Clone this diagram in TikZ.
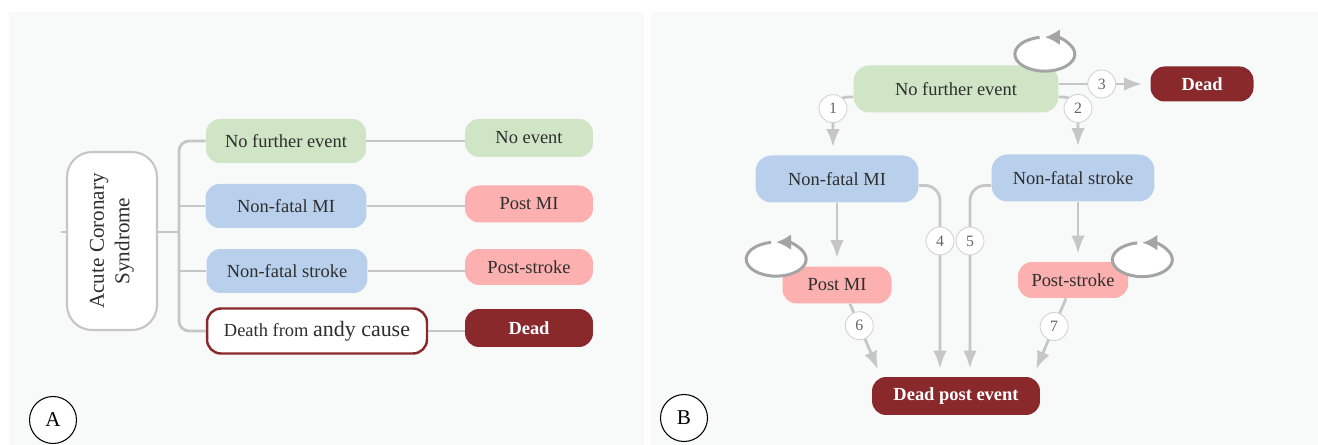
\documentclass[tikz,border=0pt]{standalone}
\usepackage{fontspec}
\setmainfont{Liberation Serif}
\usetikzlibrary{arrows.meta,calc}

\definecolor{panelbg}{HTML}{F8FAF9}
\definecolor{evgreen}{HTML}{CFE5C6}
\definecolor{nfblue}{HTML}{B9D0EC}
\definecolor{postpink}{HTML}{FDB0B0}
\definecolor{deadred}{HTML}{8A292C}
\definecolor{linkgray}{HTML}{C6C6C6}
\definecolor{loopgray}{HTML}{A4A4A4}
\definecolor{numgray}{HTML}{D2D2D2}
\definecolor{numtext}{HTML}{666666}
\definecolor{txtgray}{HTML}{2E2E2E}

\begin{document}
\begin{tikzpicture}%
        [x=0.02cm, y=-0.02cm,
        panel/.style={fill=panelbg},
        box/.style={rounded corners=0.28cm, inner sep=0pt, text=txtgray, font=\fontsize{10.5}{12}\selectfont},
        event/.style={box, fill=evgreen},
        nonfatal/.style={box, fill=nfblue},
        post/.style={box, fill=postpink},
        dead/.style={box, fill=deadred, text=white, font=\fontsize{10.5}{12}\selectfont\bfseries},
        link/.style={draw=linkgray, line width=1.6pt},
        trans/.style={link, -{Latex[length=0.36cm,width=0.27cm]}, shorten >=0.16cm},
        num/.style={circle, draw=numgray, fill=white, line width=0.5pt, minimum size=0.56cm, inner sep=0pt, text=numtext, font=\fontsize{9}{10}\selectfont},
        selfloop/.style={draw=loopgray, line width=1.7pt, -{Latex[length=0.3cm,width=0.32cm]}},
        tag/.style={circle, draw=black, fill=white, line width=0.6pt, minimum size=0.94cm, inner sep=0pt, font=\fontsize{12}{14}\selectfont}]
    %
    \useasboundingbox (0,0) rectangle (1318,445);
    %% Panels
    \fill[panel] (9,12) rectangle (644,445);
    \fill[panel] (651,12) rectangle (1318,445);
    %%
    %%
    %% Panel A: decision tree
    %%
    \node[box, draw=linkgray, fill=white, line width=1.2pt, rounded corners=0.5cm, rotate=90,
          minimum width=3.56cm, minimum height=1.8cm, align=center,
          font=\fontsize{12}{14.5}\selectfont] (acs) at (112,241) {Acute Coronary\\Syndrome};
    \node[event, minimum width=3.2cm, minimum height=0.88cm] (nfeA) at (286,141) {No further event};
    \node[nonfatal, minimum width=3.22cm, minimum height=0.88cm] (nmiA) at (286,206) {Non-fatal MI};
    \node[nonfatal, minimum width=3.22cm, minimum height=0.88cm] (nstA) at (287,271) {Non-fatal stroke};
    \node[box, draw=deadred, line width=1.4pt, fill=white, minimum width=4.4cm, minimum height=0.9cm] (deathA) at (317,331)
        {Death from {\fontsize{12.5}{14}\selectfont andy cause}};
    \node[event, minimum width=2.56cm, minimum height=0.76cm] (noevA) at (529,138) {No event};
    \node[post, minimum width=2.56cm, minimum height=0.74cm] (pmiA) at (529,204) {Post MI};
    \node[post, minimum width=2.56cm, minimum height=0.72cm] (pstA) at (529,267) {Post-stroke};
    \node[dead, minimum width=2.56cm, minimum height=0.76cm] (deadA) at (529,328) {Dead};
    %% Branches
    \coordinate (fork) at (179,232);
    \draw[link] (acs.south |- fork) -- (fork);
    \draw[link, line width=0.8pt] (acs.north |- fork) -- ++(-5,0);
    \draw[link, rounded corners=0.2cm] (nfeA.west) -| (fork) |- (deathA.west);
    \draw[link] (nmiA.west) -- (nmiA.west -| fork);
    \draw[link] (nstA.west) -- (nstA.west -| fork);
    \draw[link] (nfeA.east) -- (nfeA.east -| noevA.west);
    \draw[link] (nmiA.east) -- (nmiA.east -| pmiA.west);
    \draw[link] (nstA.east) -- (nstA.east -| pstA.west);
    \draw[link] (deathA.east) -- (deathA.east -| deadA.west);
    \node[tag] (tagA) at (53,420) {A};
    %%
    %%
    %% Panel B: state transitions
    %%
    \node[event, rounded corners=0.32cm, minimum width=4.1cm, minimum height=0.94cm] (nfeB) at (956,89) {No further event};
    \node[dead, minimum width=2.06cm, minimum height=0.7cm] (deadB) at (1202,84) {Dead};
    \node[nonfatal, rounded corners=0.32cm, minimum width=3.26cm, minimum height=0.94cm] (nmiB) at (837,179) {Non-fatal MI};
    \node[nonfatal, rounded corners=0.32cm, minimum width=3.26cm, minimum height=0.94cm] (nstB) at (1073,178) {Non-fatal stroke};
    \node[post, minimum width=2.18cm, minimum height=0.74cm] (pmiB) at (837,285) {Post MI};
    \node[post, minimum width=2.2cm, minimum height=0.72cm] (pstB) at (1073,280) {Post-stroke};
    \node[dead, minimum width=3.36cm, minimum height=0.76cm] (dpeB) at (956,396) {Dead post event};
    %% Transitions
    \draw[trans, rounded corners=0.3cm] ([yshift=-0.16cm]nfeB.west) -| ([xshift=-0.08cm]nmiB.north) node[num, pos=0.6] {1};
    \draw[trans, rounded corners=0.3cm] ([yshift=-0.16cm]nfeB.east) -| ([xshift=0.1cm]nstB.north) node[num, pos=0.6] {2};
    \draw[trans] (nfeB.east |- deadB.west) -- (deadB.west) node[num, pos=0.47] {3};
    \draw[trans, rounded corners=0.3cm] ([yshift=-0.13cm]nmiB.east) -| ([xshift=-0.32cm]dpeB.north) node[num, pos=0.645] {4};
    \draw[trans, rounded corners=0.3cm] ([yshift=-0.15cm]nstB.west) -| ([xshift=0.28cm]dpeB.north) node[num, pos=0.645] {5};
    \draw[trans] ([xshift=0.26cm]pmiB.south) -- ([xshift=-1.5cm]dpeB.north) node[num, pos=0.3] {6};
    \draw[trans] ([xshift=-0.14cm]pstB.south) -- ([xshift=1.54cm]dpeB.north) node[num, pos=0.36] {7};
    \draw[trans] (nmiB.south) -- (pmiB.north);
    \draw[trans] ([xshift=0.1cm]nstB.south) -- ([xshift=0.1cm]pstB.north);
    %% Self loops
    \coordinate (nfeloop) at ($(nfeB.north east)+(-14,-11)$);
    \coordinate (pmiloop) at ($(pmiB.north west)+(-6,-7)$);
    \coordinate (pstloop) at ($(pstB.north east)+(14,-2)$);
    \foreach \c in {nfeloop,pmiloop,pstloop}{
        \fill[white] (\c) ellipse [x radius=0.6cm, y radius=0.34cm];
        \draw[selfloop] (\c) ++(100:0.6cm and 0.34cm) arc[start angle=100, end angle=450, x radius=0.6cm, y radius=0.34cm];
    }
    \node[tag] (tagB) at (684,418) {B};
    %%
    \end{tikzpicture}
\end{document}
